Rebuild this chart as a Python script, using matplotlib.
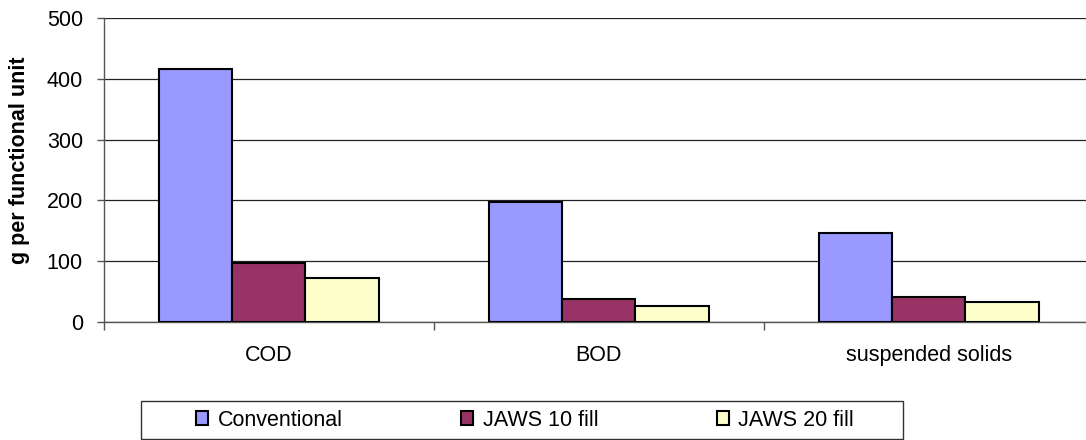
import matplotlib
matplotlib.use("Agg")
import matplotlib.pyplot as plt
from matplotlib.patches import Rectangle
import numpy as np

categories = ["COD", "BOD", "suspended solids"]
series_names = ["Conventional", "JAWS 10 fill", "JAWS 20 fill"]
conventional = [415, 198, 147]
jaws10 = [97, 39, 42]
jaws20 = [73, 27, 33]
y_ticks = [0, 100, 200, 300, 400, 500]

colors = ["#9999FF", "#993366", "#FFFFCC"]
fs = 15.5

plt.rcParams["font.family"] = ["Liberation Sans", "DejaVu Sans"]

W, H = 1086, 440
fig = plt.figure(figsize=(W / 100, H / 100), dpi=100)
ax = fig.add_axes([103.7 / W, (H - 322.3) / H, 1 - 103.7 / W, (322.3 - 17.7) / H])

x = np.arange(len(categories))
width = 1 / 4.5
for i, (vals, name) in enumerate(zip([conventional, jaws10, jaws20], series_names)):
    ax.bar(x + (i - 1) * width, vals, width, color=colors[i], edgecolor="black",
           linewidth=1.5, label=name, zorder=3)

ax.set_ylim(0, 500)
ax.set_xlim(-0.5, 2.5 - 7.7 / 330)
ax.set_yticks(y_ticks)
ax.yaxis.grid(True, color="#222222", linewidth=0.9, zorder=0)
ax.set_axisbelow(True)

ax.spines["right"].set_visible(False)
ax.spines["top"].set_visible(False)
for side in ["left", "bottom"]:
    ax.spines[side].set_color("#555555")
    ax.spines[side].set_linewidth(1.0)

ax.set_xticks(x)
ax.set_xticklabels(categories)
ax.set_xticks([-0.5, 0.5, 1.5], minor=True)
ax.tick_params(axis="x", which="major", length=0, pad=16, labelsize=fs)
ax.tick_params(axis="x", which="minor", length=6, width=1, color="#555555", direction="out")
ax.tick_params(axis="y", length=5, width=1, color="#555555", pad=10, labelsize=fs)

ax.set_ylabel("g per functional unit", fontsize=fs, fontweight="bold")
ax.yaxis.label.set_va("center")
ax.yaxis.set_label_coords(20 / W, (H - 160) / H, transform=fig.transFigure)

handles, labels = ax.get_legend_handles_labels()
leg = fig.legend(handles, labels, loc="center", ncol=3, frameon=False,
                 bbox_to_anchor=(525 / W, (H - 420) / H), fontsize=fs,
                 handlelength=0.56, handleheight=0.6, handletextpad=0.45,
                 columnspacing=5.5, borderpad=0.0)
fig.patches.append(Rectangle((141 / W, (H - 439) / H), (903 - 141) / W, 38 / H,
                             transform=fig.transFigure, fill=False,
                             edgecolor="#333333", linewidth=1.0))

fig.savefig("out.png", dpi=100)
